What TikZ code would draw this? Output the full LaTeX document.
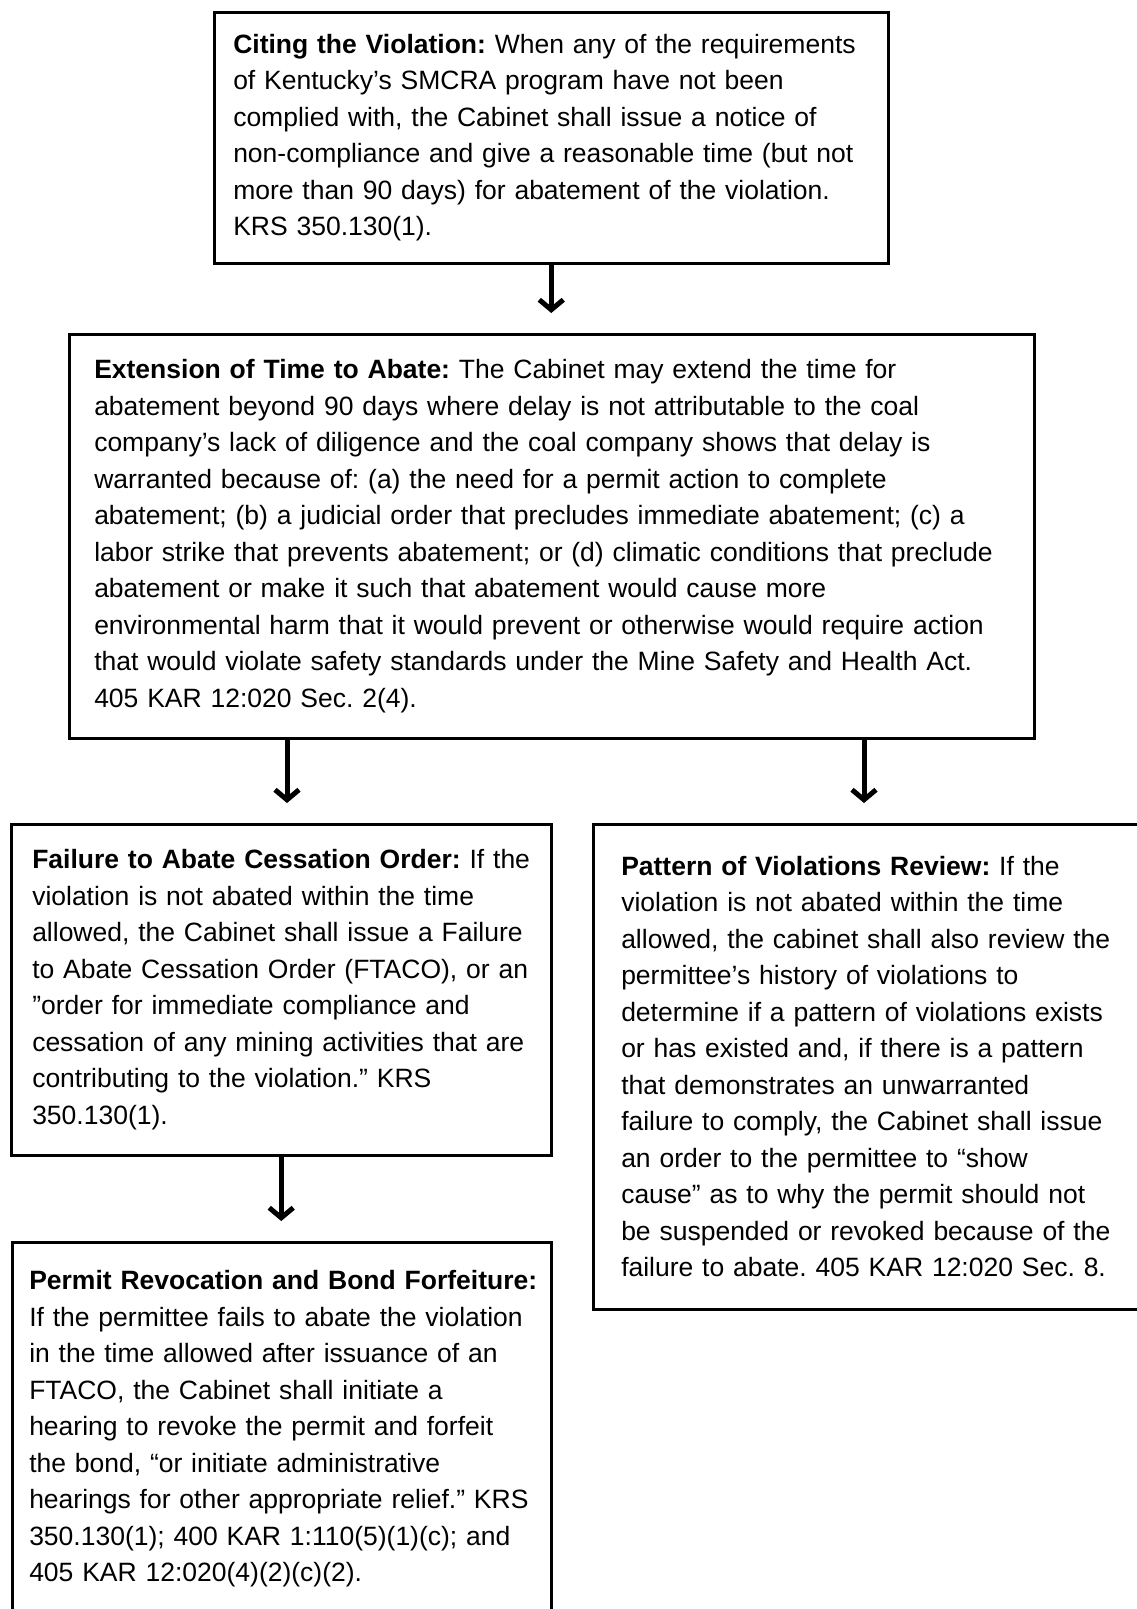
\documentclass[tikz,border=0pt]{standalone}
\usepackage{fontspec}
\setmainfont{Liberation Sans}
\usetikzlibrary{arrows.meta}

\begin{document}
\frenchspacing
\begin{tikzpicture}[x=1pt,y=-1pt,
    step box/.style={draw=black,line width=2.5pt,anchor=north west,
                  align=left,inner ysep=0pt,fill=white,
                  font=\fontsize{26.5}{36.5}\selectfont},
    flow/.style={-{Straight Barb[length=10pt,width=24pt]},line width=5pt,
                 draw=black,shorten >=20pt}
  ]
    \useasboundingbox (0,0) rectangle (1137,1609);
    \clip (0,0) rectangle (1137,1609);

    \node[step box,text width=636pt,inner xsep=19pt,minimum height=251pt]
      (cite) at (213,11)
      {\textbf{Citing the Violation:} When any of the requirements\\
       of Kentucky’s SMCRA program have not been\\
       complied with, the Cabinet shall issue a notice of\\
       non-compliance and give a reasonable time (but not\\
       more than 90 days) for abatement of the violation.\\
       KRS 350.130(1).};

    \node[step box,text width=915pt,inner xsep=25pt,minimum height=404pt]
      (extend) at (68,333)
      {\textbf{Extension of Time to Abate:} The Cabinet may extend the time for\\
       abatement beyond 90 days where delay is not attributable to the coal\\
       company’s lack of diligence and the coal company shows that delay is\\
       warranted because of: (a) the need for a permit action to complete\\
       abatement; (b) a judicial order that precludes immediate abatement; (c) a\\
       labor strike that prevents abatement; or (d) climatic conditions that preclude\\
       abatement or make it such that abatement would cause more\\
       environmental harm that it would prevent or otherwise would require action\\
       that would violate safety standards under the Mine Safety and Health Act.\\
       405 KAR 12:020 Sec. 2(4).};

    \node[step box,text width=498pt,inner xsep=21pt,minimum height=331pt]
      (ftaco) at (10,823)
      {\textbf{Failure to Abate Cessation Order:} If the\\
       violation is not abated within the time\\
       allowed, the Cabinet shall issue a Failure\\
       to Abate Cessation Order (FTACO), or an\\
       ”order for immediate compliance and\\
       cessation of any mining activities that are\\
       contributing to the violation.” KRS\\
       350.130(1).};

    \node[step box,text width=504pt,inner xsep=28pt,minimum height=485pt]
      (pattern) at (592,823)
      {\textbf{Pattern of Violations Review:} If the\\
       violation is not abated within the time\\
       allowed, the cabinet shall also review the\\
       permittee’s history of violations to\\
       determine if a pattern of violations exists\\
       or has existed and, if there is a pattern\\
       that demonstrates an unwarranted\\
       failure to comply, the Cabinet shall issue\\
       an order to the permittee to “show\\
       cause” as to why the permit should not\\
       be suspended or revoked because of the\\
       failure to abate. 405 KAR 12:020 Sec. 8.};

    \node[step box,text width=505pt,inner xsep=17pt,minimum height=373pt]
      (revoke) at (11,1241)
      {\mbox{\textbf{Permit Revocation and Bond Forfeiture:}}\\
       If the permittee fails to abate the violation\\
       in the time allowed after issuance of an\\
       FTACO, the Cabinet shall initiate a\\
       hearing to revoke the permit and forfeit\\
       the bond, “or initiate administrative\\
       hearings for other appropriate relief.” KRS\\
       350.130(1); 400 KAR 1:110(5)(1)(c); and\\
       405 KAR 12:020(4)(2)(c)(2).};

    \draw[flow] (cite.south) -- (extend.north -| cite.south);
    \draw[flow] (extend.south -| 287,0) -- (ftaco.north -| 287,0);
    \draw[flow] (extend.south -| 864,0) -- (pattern.north -| 864,0);
    \draw[flow] (ftaco.south) -- (revoke.north -| ftaco.south);
  \end{tikzpicture}
\end{document}
